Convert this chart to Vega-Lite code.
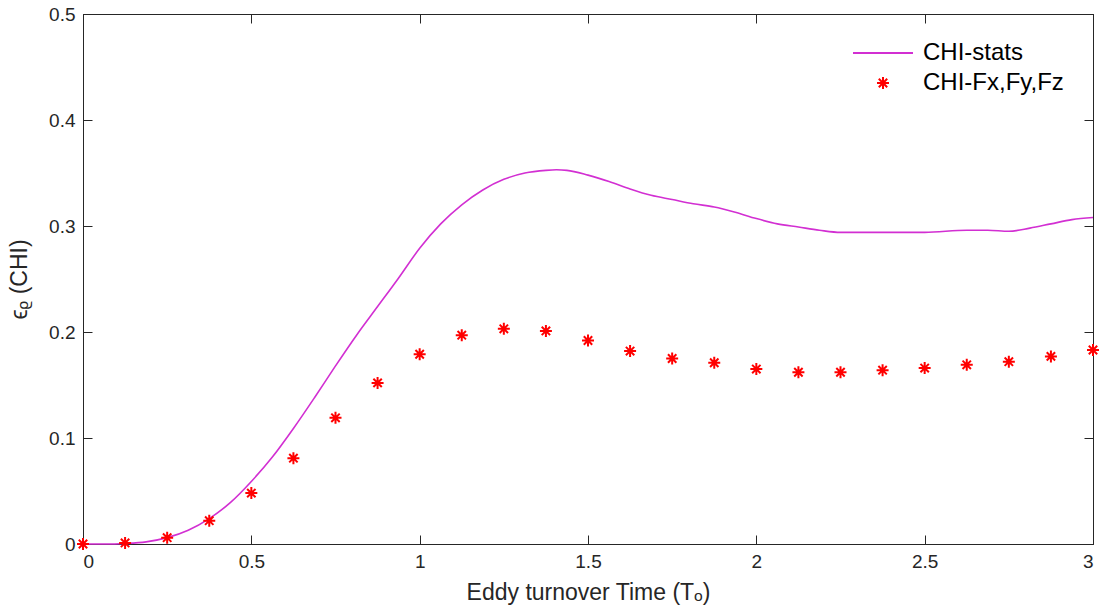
{
  "$schema": "https://vega.github.io/schema/vega-lite/v6.json",
  "width": 1010,
  "height": 530,
  "autosize": {"type": "none"},
  "padding": {"left": 83, "top": 14, "right": 10, "bottom": 71},
  "background": "white",
  "config": {
    "font": "Liberation Sans",
    "view": {"stroke": "#262626", "strokeWidth": 1},
    "axis": {
      "grid": false,
      "domainColor": "#262626",
      "tickColor": "#262626",
      "labelColor": "#262626",
      "titleColor": "#262626",
      "labelFontSize": 19,
      "titleFontSize": 23,
      "titleFontWeight": "normal",
      "tickSize": -9,
      "labelPadding": 17,
      "labelFont": "Liberation Sans",
      "titleFont": "Liberation Sans"
    }
  },
  "datasets": {
    "line": [
      {"t": 0, "v": 0, "series": "CHI-stats"},
      {"t": 0.0625, "v": 0, "series": "CHI-stats"},
      {"t": 0.125, "v": 0.0005, "series": "CHI-stats"},
      {"t": 0.1875, "v": 0.002, "series": "CHI-stats"},
      {"t": 0.25, "v": 0.006, "series": "CHI-stats"},
      {"t": 0.3125, "v": 0.013, "series": "CHI-stats"},
      {"t": 0.375, "v": 0.024, "series": "CHI-stats"},
      {"t": 0.4375, "v": 0.039, "series": "CHI-stats"},
      {"t": 0.5, "v": 0.059, "series": "CHI-stats"},
      {"t": 0.5625, "v": 0.082, "series": "CHI-stats"},
      {"t": 0.625, "v": 0.109, "series": "CHI-stats"},
      {"t": 0.6875, "v": 0.138, "series": "CHI-stats"},
      {"t": 0.75, "v": 0.168, "series": "CHI-stats"},
      {"t": 0.8125, "v": 0.197, "series": "CHI-stats"},
      {"t": 0.875, "v": 0.224, "series": "CHI-stats"},
      {"t": 0.9375, "v": 0.251, "series": "CHI-stats"},
      {"t": 1.0, "v": 0.279, "series": "CHI-stats"},
      {"t": 1.0625, "v": 0.302, "series": "CHI-stats"},
      {"t": 1.125, "v": 0.320, "series": "CHI-stats"},
      {"t": 1.1875, "v": 0.334, "series": "CHI-stats"},
      {"t": 1.25, "v": 0.344, "series": "CHI-stats"},
      {"t": 1.3125, "v": 0.350, "series": "CHI-stats"},
      {"t": 1.375, "v": 0.3525, "series": "CHI-stats"},
      {"t": 1.40625, "v": 0.353, "series": "CHI-stats"},
      {"t": 1.4375, "v": 0.3525, "series": "CHI-stats"},
      {"t": 1.5, "v": 0.348, "series": "CHI-stats"},
      {"t": 1.5625, "v": 0.342, "series": "CHI-stats"},
      {"t": 1.625, "v": 0.335, "series": "CHI-stats"},
      {"t": 1.6875, "v": 0.329, "series": "CHI-stats"},
      {"t": 1.75, "v": 0.325, "series": "CHI-stats"},
      {"t": 1.8125, "v": 0.321, "series": "CHI-stats"},
      {"t": 1.875, "v": 0.318, "series": "CHI-stats"},
      {"t": 1.9375, "v": 0.313, "series": "CHI-stats"},
      {"t": 2.0, "v": 0.307, "series": "CHI-stats"},
      {"t": 2.0625, "v": 0.302, "series": "CHI-stats"},
      {"t": 2.125, "v": 0.299, "series": "CHI-stats"},
      {"t": 2.1875, "v": 0.296, "series": "CHI-stats"},
      {"t": 2.25, "v": 0.294, "series": "CHI-stats"},
      {"t": 2.375, "v": 0.294, "series": "CHI-stats"},
      {"t": 2.5, "v": 0.294, "series": "CHI-stats"},
      {"t": 2.625, "v": 0.296, "series": "CHI-stats"},
      {"t": 2.6875, "v": 0.296, "series": "CHI-stats"},
      {"t": 2.75, "v": 0.295, "series": "CHI-stats"},
      {"t": 2.8125, "v": 0.298, "series": "CHI-stats"},
      {"t": 2.875, "v": 0.302, "series": "CHI-stats"},
      {"t": 2.9375, "v": 0.306, "series": "CHI-stats"},
      {"t": 3.0, "v": 0.308, "series": "CHI-stats"}
    ],
    "stars": [
      {"t": 0, "v": 0, "series": "CHI-Fx,Fy,Fz"},
      {"t": 0.125, "v": 0.001, "series": "CHI-Fx,Fy,Fz"},
      {"t": 0.25, "v": 0.006, "series": "CHI-Fx,Fy,Fz"},
      {"t": 0.375, "v": 0.022, "series": "CHI-Fx,Fy,Fz"},
      {"t": 0.5, "v": 0.048, "series": "CHI-Fx,Fy,Fz"},
      {"t": 0.625, "v": 0.081, "series": "CHI-Fx,Fy,Fz"},
      {"t": 0.75, "v": 0.119, "series": "CHI-Fx,Fy,Fz"},
      {"t": 0.875, "v": 0.152, "series": "CHI-Fx,Fy,Fz"},
      {"t": 1.0, "v": 0.179, "series": "CHI-Fx,Fy,Fz"},
      {"t": 1.125, "v": 0.197, "series": "CHI-Fx,Fy,Fz"},
      {"t": 1.25, "v": 0.203, "series": "CHI-Fx,Fy,Fz"},
      {"t": 1.375, "v": 0.201, "series": "CHI-Fx,Fy,Fz"},
      {"t": 1.5, "v": 0.192, "series": "CHI-Fx,Fy,Fz"},
      {"t": 1.625, "v": 0.182, "series": "CHI-Fx,Fy,Fz"},
      {"t": 1.75, "v": 0.175, "series": "CHI-Fx,Fy,Fz"},
      {"t": 1.875, "v": 0.171, "series": "CHI-Fx,Fy,Fz"},
      {"t": 2.0, "v": 0.165, "series": "CHI-Fx,Fy,Fz"},
      {"t": 2.125, "v": 0.162, "series": "CHI-Fx,Fy,Fz"},
      {"t": 2.25, "v": 0.162, "series": "CHI-Fx,Fy,Fz"},
      {"t": 2.375, "v": 0.164, "series": "CHI-Fx,Fy,Fz"},
      {"t": 2.5, "v": 0.166, "series": "CHI-Fx,Fy,Fz"},
      {"t": 2.625, "v": 0.169, "series": "CHI-Fx,Fy,Fz"},
      {"t": 2.75, "v": 0.172, "series": "CHI-Fx,Fy,Fz"},
      {"t": 2.875, "v": 0.177, "series": "CHI-Fx,Fy,Fz"},
      {"t": 3.0, "v": 0.183, "series": "CHI-Fx,Fy,Fz"}
    ]
  },
  "layer": [
    {
      "data": {"name": "line"},
      "mark": {"type": "line", "strokeWidth": 1.6, "interpolate": "monotone"},
      "encoding": {
        "x": {
          "field": "t", "type": "quantitative",
          "scale": {"domain": [0, 3], "nice": false, "zero": false},
          "axis": {"orient": "bottom", "values": [0, 0.5, 1, 1.5, 2, 2.5, 3], "format": "~g", "title": "Eddy turnover Time (Tₒ)", "titlePadding": 10}
        },
        "y": {
          "field": "v", "type": "quantitative",
          "scale": {"domain": [0, 0.5], "nice": false},
          "axis": {"orient": "left", "values": [0, 0.1, 0.2, 0.3, 0.4, 0.5], "format": "~g", "title": "ϵᵨ (CHI)", "titlePadding": 17}
        },
        "color": {
          "field": "series", "type": "nominal",
          "scale": {"domain": ["CHI-stats", "CHI-Fx,Fy,Fz"], "range": ["#d22fd2", "#ff0000"]},
          "legend": {
            "title": null, "orient": "none", "legendX": 788, "legendY": 27,
            "labelFontSize": 24, "labelColor": "#000000", "labelFont": "Liberation Sans",
            "symbolSize": 144, "labelOffset": 28, "rowPadding": 6, "padding": 0,
            "symbolStrokeWidth": 2
          }
        },
        "shape": {
          "field": "series", "type": "nominal",
          "scale": {"domain": ["CHI-stats", "CHI-Fx,Fy,Fz"], "range": ["M-5,0L5,0", "M-1,0L1,0M0,-1L0,1M-0.7,-0.7L0.7,0.7M-0.7,0.7L0.7,-0.7"]},
          "legend": {
            "title": null, "orient": "none", "legendX": 788, "legendY": 27,
            "labelFontSize": 24, "labelColor": "#000000", "labelFont": "Liberation Sans",
            "symbolSize": 144, "labelOffset": 28, "rowPadding": 6, "padding": 0,
            "symbolStrokeWidth": 2
          }
        }
      }
    },
    {
      "data": {"name": "stars"},
      "mark": {"type": "point", "filled": false, "strokeWidth": 2, "size": 144, "opacity": 1},
      "encoding": {
        "x": {
          "field": "t", "type": "quantitative",
          "scale": {"domain": [0, 3], "nice": false, "zero": false},
          "axis": {"orient": "top", "values": [0, 0.5, 1, 1.5, 2, 2.5, 3], "labels": false, "title": null}
        },
        "y": {
          "field": "v", "type": "quantitative",
          "scale": {"domain": [0, 0.5], "nice": false},
          "axis": {"orient": "right", "values": [0, 0.1, 0.2, 0.3, 0.4, 0.5], "labels": false, "title": null}
        },
        "color": {"field": "series", "type": "nominal"},
        "shape": {"field": "series", "type": "nominal"}
      }
    }
  ],
  "resolve": {"axis": {"x": "independent", "y": "independent"}}
}
